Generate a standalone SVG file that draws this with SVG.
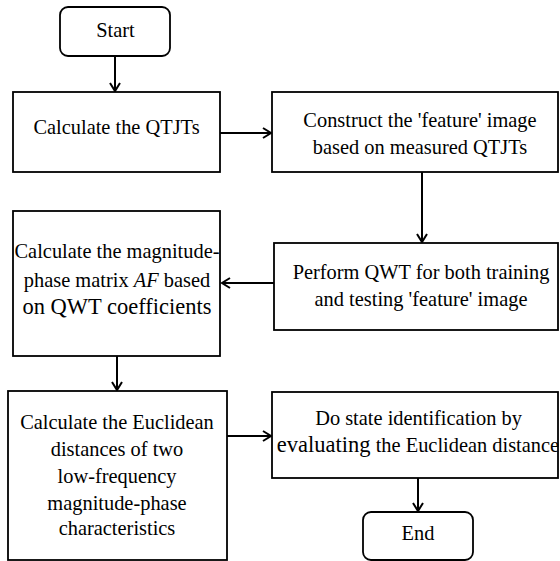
<svg xmlns="http://www.w3.org/2000/svg" width="560" height="561" viewBox="0 0 560 561">
<style>
.box{fill:#fff;stroke:#000;stroke-width:1.8}
.t{font-family:'Liberation Serif','DejaVu Serif',serif;font-size:20.4px;fill:#000;text-anchor:middle}
.big{font-size:22.5px}
.c{fill:none;stroke:#000;stroke-width:2}
</style>
<defs>
<marker id="ah" markerUnits="userSpaceOnUse" markerWidth="14" markerHeight="14" refX="9" refY="6" orient="auto">
<path d="M1,1 L9,6 L1,11" fill="none" stroke="#000" stroke-width="2"/>
</marker>
</defs>
<rect width="560" height="561" fill="#fff"/>
<g id="connectors">
<line class="c" x1="115" y1="56" x2="115" y2="91" marker-end="url(#ah)"/>
<line class="c" x1="220" y1="133" x2="271" y2="133" marker-end="url(#ah)"/>
<line class="c" x1="422" y1="172" x2="422" y2="242" marker-end="url(#ah)"/>
<line class="c" x1="274" y1="283" x2="222" y2="283" marker-end="url(#ah)"/>
<line class="c" x1="117" y1="356" x2="117" y2="390" marker-end="url(#ah)"/>
<line class="c" x1="227" y1="436" x2="271" y2="436" marker-end="url(#ah)"/>
<line class="c" x1="418" y1="478" x2="418" y2="511" marker-end="url(#ah)"/>
</g>
<g id="start">
<rect class="box" x="60" y="7" width="110" height="49" rx="8"/>
<text class="t" x="115.5" y="37" font-family="Liberation Serif, serif">Start</text>
</g>
<g id="calc-qtjts">
<rect class="box" x="13" y="92" width="207" height="80"/>
<text class="t" x="116.5" y="134">Calculate the QTJTs</text>
</g>
<g id="construct">
<rect class="box" x="272" y="92" width="286" height="80"/>
<text class="t" x="420" y="127">Construct the 'feature' image</text>
<text class="t" x="420" y="154">based on measured QTJTs</text>
</g>
<g id="perform-qwt">
<rect class="box" x="274" y="243" width="284" height="87"/>
<text class="t" x="421" y="279">Perform QWT for both training</text>
<text class="t" x="421" y="306">and testing 'feature' image</text>
</g>
<g id="magnitude-phase">
<rect class="box" x="13" y="211" width="207" height="145"/>
<text class="t" x="117" y="258">Calculate the magnitude-</text>
<text class="t" x="117" y="287">phase matrix <tspan font-style="italic">AF</tspan> based</text>
<text class="t big" x="117" y="314">on QWT coefficients</text>
</g>
<g id="euclidean">
<rect class="box" x="8" y="391" width="219" height="169"/>
<text class="t" x="117" y="429">Calculate the Euclidean</text>
<text class="t" x="117" y="456">distances of two</text>
<text class="t" x="117" y="483">low-frequency</text>
<text class="t" x="117" y="510">magnitude-phase</text>
<text class="t" x="117" y="535">characteristics</text>
</g>
<g id="state-identification">
<rect class="box" x="272" y="392" width="286" height="86"/>
<text class="t" x="418.5" y="425">Do state identification by</text>
<text class="t" x="418" y="452"><tspan class="big">evaluating</tspan> the Euclidean distance</text>
</g>
<g id="end">
<rect class="box" x="363" y="512" width="110" height="48" rx="8"/>
<text class="t" x="418" y="540">End</text>
</g>
</svg>
